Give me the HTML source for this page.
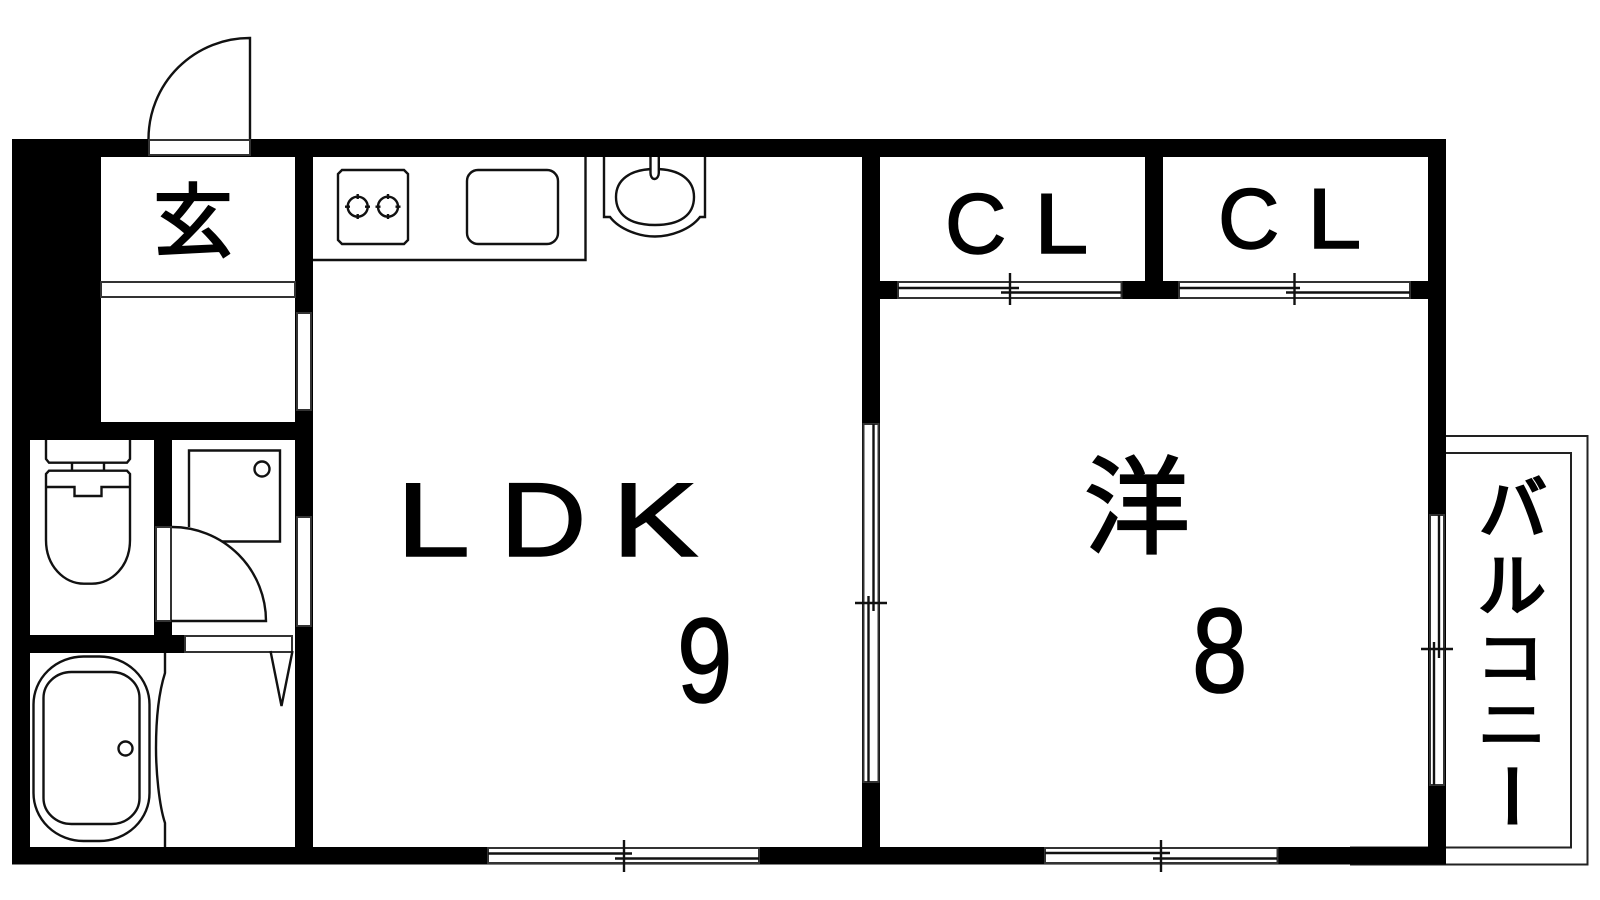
<!DOCTYPE html>
<html><head><meta charset="utf-8"><style>
html,body{margin:0;padding:0;background:#fff;width:1600px;height:900px;overflow:hidden}
svg{display:block}
text{fill:#000;stroke:#000}
.l{font-family:"Liberation Sans",sans-serif;stroke-width:1.500}
.j{font-family:"Liberation Sans","Noto Sans CJK JP",sans-serif;stroke-width:2.200}
.b{font-family:"Liberation Sans","Noto Sans CJK JP",sans-serif;stroke-width:3}
</style></head><body>
<svg width="1600" height="900" viewBox="0 0 1600 900" xmlns="http://www.w3.org/2000/svg">
<!-- balcony -->
<g fill="none" stroke="#222" stroke-width="2">
<path d="M1446 436H1587.500V864.500H1350"/>
<path d="M1446 453H1571V847.500H1350"/>
</g>
<!-- walls -->
<g fill="#000">
<rect x="12" y="139" width="1434" height="18"/>
<rect x="12" y="847" width="1434" height="17.500"/>
<rect x="12" y="139" width="18" height="725.500"/>
<rect x="12" y="139" width="89" height="283"/>
<rect x="12" y="422" width="301" height="18"/>
<rect x="295" y="139" width="18" height="725.500"/>
<rect x="154" y="422" width="18" height="231"/>
<rect x="12" y="635" width="173" height="18"/>
<rect x="862" y="139" width="18" height="725.500"/>
<rect x="1428" y="139" width="18" height="725.500"/>
<rect x="1145" y="139" width="18" height="160"/>
<rect x="862" y="281" width="584" height="18"/>
</g>
<!-- openings -->
<g fill="#fff" stroke="#333" stroke-width="2">
<rect x="149" y="140" width="101" height="15"/>
<rect x="297" y="313" width="14" height="97"/>
<rect x="297" y="517" width="14" height="109"/>
<rect x="156" y="527" width="15" height="94"/>
<rect x="185" y="636" width="107" height="16"/>
<rect x="898" y="282" width="223.500" height="16"/>
<rect x="1179" y="282" width="231" height="16"/>
<rect x="488" y="848" width="271" height="15"/>
<rect x="1045" y="848" width="232.500" height="15"/>
<rect x="863.500" y="424" width="15" height="358"/>
<rect x="1430" y="515" width="14" height="270"/>
<rect x="101" y="282" width="194" height="15"/>
</g>
<g fill="none" stroke="#111" stroke-width="2.400">
<!-- sashes -->
<path d="M898 288H1019M1001 292.500H1121.500M1010 273V305"/>
<path d="M1179 288H1300M1286 292.500H1410M1294.500 273V305"/>
<path d="M488 853.500H632M615 858.500H759M624 840V872"/>
<path d="M1045 853H1170M1153 858.500H1277M1161 840V872"/>
<path d="M873.500 424V611M868.500 596V782M855 603H887"/>
<path d="M1439 515V658M1434 642V785M1421 649H1453"/>
<!-- entry door -->
<path d="M250 139V38A101 101 0 0 0 148.500 139"/>
<!-- inner door -->
<path d="M172 527A94 94 0 0 1 266 621H171"/>
<!-- counter -->
<path d="M313 260H585.500V157"/>
<path d="M342 170H404L408 174V240L404 244H342L338 240V174Z"/>
<rect x="467" y="170" width="91" height="74" rx="11"/>
<circle cx="357.700" cy="206.700" r="10"/>
<circle cx="388" cy="206.700" r="10"/>
<path d="M357.700 194V199M357.700 214V219M345 206.700H350M365 206.700H370M388 194V199M388 214V219M375.500 206.700H380.500M395.500 206.700H400.500"/>
<!-- basin -->
<path d="M604 157V217H610C620 230 640 236.500 655 236.500S690 230 700 217H705V157"/>
<path d="M655 169C680 169 694 180 694 197C694 215 680 225 655 225C630 225 616 215 616 197C616 180 630 169 655 169Z"/>
<path d="M650.500 157V173C650.500 176 652 179 654.500 179S658.800 176 658.800 173V157" fill="#fff"/>
<!-- toilet -->
<path d="M46 440V459L49 462.700H127L130 459V440"/>
<path d="M72 462.700V470.500M104 462.700V470.500"/>
<path d="M46 540V474L49 470.700H127L130 474V540C130 566 112 583.700 92 583.700H84C64 583.700 46 566 46 540Z"/>
<path d="M46 487H74.500V496H101.500V487H130"/>
<!-- washer -->
<path d="M222 541.500H280V450.500H189V527"/>
<circle cx="262" cy="469" r="7.500"/>
<!-- bath -->
<rect x="33.500" y="656.500" width="116" height="184.500" rx="50" ry="48"/>
<rect x="43.500" y="672" width="96" height="152" rx="28" ry="26"/>
<circle cx="125.500" cy="748.500" r="7"/>
<path d="M165 653V673C158 695 156 725 156 748S159 805 165 823V847"/>
<path d="M270.500 651L281.500 706L292.500 651"/>
</g>
<!-- labels -->
<text class="j" x="153" y="250" font-size="80">玄</text>
<text class="l" transform="translate(396,556) scale(1.270,1)" font-size="105">L</text>
<text class="l" transform="translate(500,556) scale(1.140,1)" font-size="105">D</text>
<text class="l" transform="translate(612,556) scale(1.230,1)" font-size="105">K</text>
<text class="l" transform="translate(677,702) scale(.83,1)" font-size="120">9</text>
<text class="j" x="1084" y="545" font-size="106">洋</text>
<text class="l" transform="translate(1192,692) scale(.83,1)" font-size="120">8</text>
<text class="l" x="945" y="253" font-size="85">C</text>
<text class="l" transform="translate(1034,253) scale(1.150,1)" font-size="85">L</text>
<text class="l" x="1218" y="248" font-size="85">C</text>
<text class="l" transform="translate(1307,248) scale(1.150,1)" font-size="85">L</text>
<text class="b" x="1479" y="533" font-size="68">バ</text>
<text class="b" x="1478" y="610" font-size="68">ル</text>
<text class="b" transform="translate(1476,678) scale(1,.83)" font-size="68">コ</text>
<text class="b" transform="translate(1478,744) scale(1,.8)" font-size="68">ニ</text>
<text class="b" transform="translate(1486,762) rotate(90)" font-size="68" x="0" y="0">ー</text>
</svg>
</body></html>
